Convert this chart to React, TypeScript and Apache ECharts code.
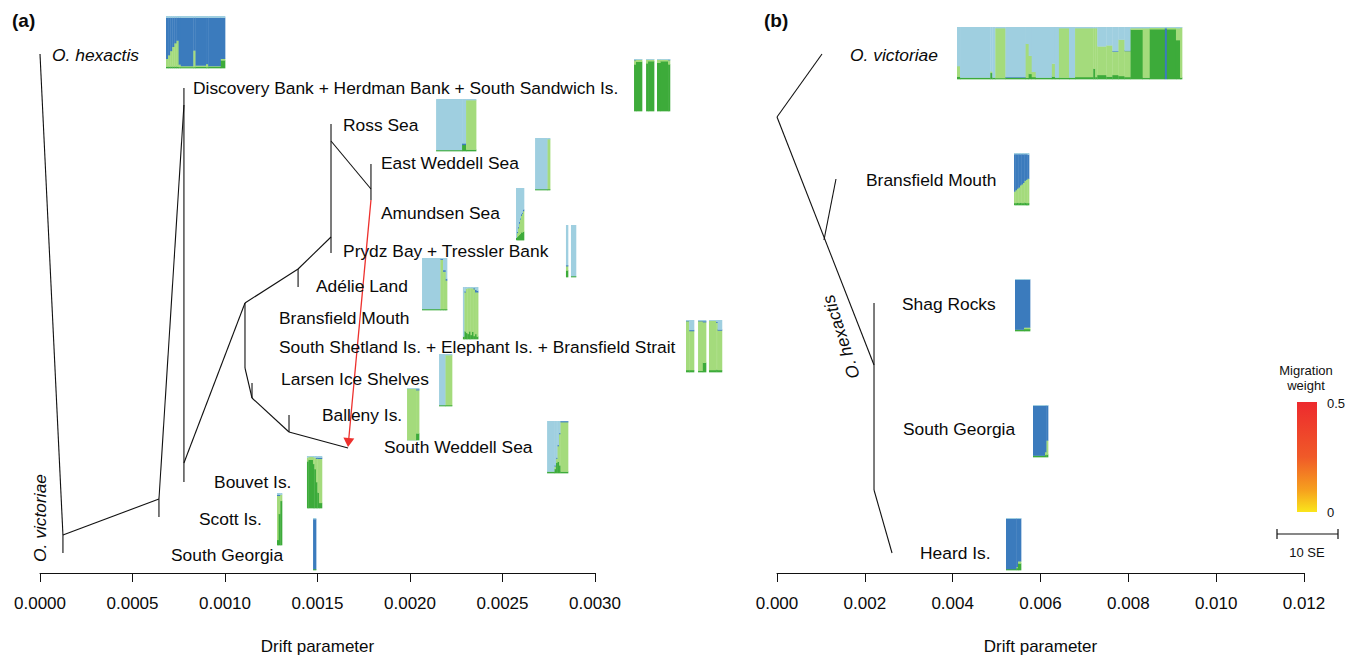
import React, { useEffect, useRef } from "react";
import * as echarts from "echarts";

const FONT = "'Liberation Sans', Arial, Helvetica, sans-serif";
const LABEL_SIZE = 17.4;
const COL = { dg: "#3dab3a", lg: "#a4db7c", db: "#3b7bbd", lb: "#9fcfe0" };
const BAR_H = 52; // height of each admixture block (vertical position units)

// ---------------- Panel (a) ----------------
// tree edges: [drift0, pos0, drift1, pos1]
const edgesA = [
  [0, 54, 0.000124, 535],
  [0.000124, 535, 0.000124, 553],
  [0.000124, 535, 0.000643, 499],
  [0.000643, 499, 0.000643, 517],
  [0.000643, 499, 0.000778, 105],
  [0.000778, 88, 0.000778, 482],
  [0.000778, 463, 0.001108, 303],
  [0.001108, 303, 0.001108, 368],
  [0.001108, 368, 0.001146, 398],
  [0.001146, 383, 0.001146, 398],
  [0.001146, 398, 0.001346, 432],
  [0.001346, 415, 0.001346, 432],
  [0.001346, 432, 0.001665, 448],
  [0.001108, 303, 0.001395, 269],
  [0.001395, 269, 0.001395, 287],
  [0.001395, 269, 0.001573, 237],
  [0.001573, 124, 0.001573, 253],
  [0.001573, 141, 0.001789, 189],
  [0.001789, 164, 0.001789, 200],
];
// migration edge: [fromDrift, fromPos, toDrift, toPos, weight]
const migrationA = [[0.001789, 200, 0.001665, 447, 0.47]];

const popsA = [
  "O. hexactis",
  "Discovery Bank + Herdman Bank + South Sandwich Is.",
  "Ross Sea",
  "East Weddell Sea",
  "Amundsen Sea",
  "Prydz Bay + Tressler Bank",
  "Adélie Land",
  "Bransfield Mouth",
  "South Shetland Is. + Elephant Is. + Bransfield Strait",
  "Larsen Ice Shelves",
  "Balleny Is.",
  "South Weddell Sea",
  "Bouvet Is.",
  "Scott Is.",
  "South Georgia",
  "O. victoriae",
];
const labelAX = [0.000065, 0.000827, 0.001638, 0.001843, 0.001843, 0.001638, 0.001492, 0.001292, 0.001292, 0.001303, 0.001524, 0.001859, 0.000941, 0.000859, 0.000708, 0];
const labelAY = [55, 88, 125, 163, 213, 251, 286, 318, 347, 379, 415, 447, 482, 519, 555, 518];
const labelAItalic = [1, 0, 0, 0, 0, 0, 0, 0, 0, 0, 0, 0, 0, 0, 0, 1];
const labelARot = [0, 0, 0, 0, 0, 0, 0, 0, 0, 0, 0, 0, 0, 0, 0, 90];
const labelAAlign = ["left", "left", "left", "left", "left", "left", "left", "left", "left", "left", "left", "left", "left", "left", "left", "center"];

// admixture columns: [individuals, darkGreen, lightGreen, darkBlue] (light blue = rest)
const runsHex = [[1, .03, .15, .79], [1, .03, .22, .72], [1, .03, .3, .64], [1, .03, .38, .56], [1, .03, .45, .49], [1, .03, .5, .44], [1, .02, .05, .9], [6, .02, .02, .93], [1, .02, .32, .63], [5, .03, .02, .92], [1, .02, .06, .89], [6, .03, .01, .93], [2, .15, .03, .79]];
const runsDisc1 = [[1, .9, .08, .01], [3, .95, .04, 0]];
const runsDisc2 = [[1, .92, .07, 0], [3, .96, .03, 0]];
const runsDisc3 = [[2, .93, .06, 0], [4, .96, .03, 0], [1, .9, .08, .01]];
const runsRoss = [[13, .02, 0, 0], [2, .12, 0, .03], [5, .03, .95, 0]];
const runsEWed = [[10, .02, 0, 0], [2, .02, .96, 0]];
const runsAmun = [[1, .05, 0, 0], [1, .06, .08, .02], [1, .08, .15, .02], [1, .1, .22, .03], [1, .12, .28, .02], [1, .15, .32, .03], [1, .15, .36, .02], [1, .16, .4, .03]];
const runsPrydz1 = [[1, .13, .08, .02]];
const runsPrydz2 = [[3, .02, 0, 0]];
const runsAdelie = [[14, .02, 0, 0], [2, .02, .95, .02], [2, .02, .72, .03], [1, .02, .55, .03]];
const runsBransA = [[1, .05, 0, 0], [1, .15, .75, .02], [1, .12, .85, 0], [1, .1, .88, 0], [1, .15, .83, 0], [1, .08, .9, 0], [1, .14, .84, 0], [1, .06, .9, .02], [1, .1, .8, .05], [1, .05, .85, .03]];
const runsSS1 = [[2, .04, .94, .01], [3, .04, .75, .02]];
const runsSS2 = [[3, .03, .95, .01], [2, .18, .78, .02]];
const runsSS3 = [[5, .04, .95, 0], [1, .05, .9, .02], [3, .04, .76, .02]];
const runsLarsen = [[5, .02, 0, 0], [5, .02, .96, 0]];
const runsBalleny = [[6, .01, .98, 0], [2, .13, .83, .02]];
const runsSWed = [[5, .03, 0, 0], [1, .08, .05, .02], [1, .2, .08, .02], [1, .22, .3, .02], [1, .15, .6, .02], [5, .03, .95, .02]];
const runsBouvet = [[1, .9, .07, 0], [3, .93, .06, 0], [1, .85, .13, 0], [1, .75, .22, 0], [1, .5, .45, .02], [1, .3, .65, .02], [2, .1, .85, .02]];
const runsScott = [[1, .1, .85, .02], [1, .6, .35, .02], [1, .85, .12, 0]];
const runsSGeoA = [[2, .02, 0, .96]];

const blockARuns = [runsHex, runsDisc1, runsDisc2, runsDisc3, runsRoss, runsEWed, runsAmun, runsPrydz1, runsPrydz2, runsAdelie, runsBransA, runsSS1, runsSS2, runsSS3, runsLarsen, runsBalleny, runsSWed, runsBouvet, runsScott, runsSGeoA];
// block placement (drift from, drift to, top position)
const blockAX0 = [0.000681, 0.003211, 0.003276, 0.003335, 0.002141, 0.002676, 0.002573, 0.002843, 0.00287, 0.002065, 0.002286, 0.003492, 0.003557, 0.003616, 0.002157, 0.001984, 0.002741, 0.001443, 0.001281, 0.001476];
const blockAX1 = [0.001, 0.003254, 0.003319, 0.003405, 0.002357, 0.002757, 0.002616, 0.002854, 0.002897, 0.0022, 0.002368, 0.003535, 0.0036, 0.003686, 0.002227, 0.002049, 0.002854, 0.001524, 0.001308, 0.001492];
const blockATop = [16, 59, 59, 59, 99, 138, 188, 225, 225, 258, 287, 320, 320, 320, 354, 388, 421, 456, 493, 518];

// ---------------- Panel (b) ----------------
const edgesB = [
  [0, 117, 0.001025, 54],
  [0, 117, 0.002209, 365],
  [0.00107, 240, 0.001343, 179],
  [0.002209, 303, 0.002209, 490],
  [0.002209, 490, 0.002619, 553],
];
const popsB = ["O. victoriae", "Bransfield Mouth", "Shag Rocks", "South Georgia", "Heard Is.", "O. hexactis"];
const labelBX = [0.001662, 0.002027, 0.002846, 0.002869, 0.003256, 0.001457];
const labelBY = [55, 180, 304, 429, 553, 337];
const labelBItalic = [1, 0, 0, 0, 0, 1];
const labelBRot = [0, 0, 0, 0, 0, 108];
const labelBAlign = ["left", "left", "left", "left", "left", "center"];

const runsVic = [[3, .05, .2, 0], [30, .03, 0, 0], [2, .12, .03, 0], [3, .03, 0, 0], [10, .02, .96, 0], [20, .03, 0, .01], [3, .03, .65, 0], [3, .1, .35, 0], [4, .04, .1, 0], [16, .03, 0, 0], [3, .05, .25, 0], [4, .03, 0, 0], [10, .03, .95, 0], [6, .03, 0, 0], [18, .04, .94, 0], [2, .2, .78, 0], [2, .04, .94, 0], [9, .08, .55, 0], [6, .05, .6, 0], [6, .08, .45, .01], [6, .06, .7, 0], [6, .04, .5, .01], [12, .95, .03, 0], [7, .03, .95, 0], [15, .96, .03, 0], [2, 0, 0, .98], [9, .96, .03, 0], [4, .75, .23, 0], [2, .03, .96, 0]];
const runsBransB = [[1, .04, .22, .72], [1, .04, .25, .69], [1, .05, .27, .66], [1, .04, .3, .64], [1, .05, .33, .6], [1, .04, .36, .58], [1, .04, .39, .55], [1, .05, .42, .51], [1, .04, .45, .49], [1, .04, .47, .46]];
const runsShag = [[6, .03, 0, .96], [4, .04, .03, .92]];
const runsSGeoB = [[8, .03, 0, .96], [1, .04, .06, .89], [1, .05, .27, .67]];
const runsHeard = [[7, .02, 0, .97], [1, .04, .02, .93], [2, .13, .04, .82]];

const blockBRuns = [runsVic, runsBransB, runsShag, runsSGeoB, runsHeard];
const blockBX0 = [0.004099, 0.005397, 0.005419, 0.005829, 0.005214];
const blockBX1 = [0.009222, 0.005738, 0.005761, 0.006171, 0.005556];
const blockBTop = [27, 153, 279, 405, 518];

// migration weight colour scale
const weightStops = [
  [0, "#fae51b"],
  [0.2, "#f6a01e"],
  [0.5, "#f05a28"],
  [1, "#ed2a2e"],
];
const WEIGHT_MAX = 0.5;

function hexToRgb(h: string) {
  const n = parseInt(h.slice(1), 16);
  return [(n >> 16) & 255, (n >> 8) & 255, n & 255];
}
function weightColor(w: number) {
  const t = Math.max(0, Math.min(1, w / WEIGHT_MAX));
  for (let i = 1; i < weightStops.length; i++) {
    const [t1, c1] = weightStops[i] as [number, string];
    const [t0, c0] = weightStops[i - 1] as [number, string];
    if (t <= t1) {
      const f = (t - t0) / (t1 - t0);
      const a = hexToRgb(c0), b = hexToRgb(c1);
      return `rgb(${a.map((v, k) => Math.round(v + (b[k] - v) * f)).join(",")})`;
    }
  }
  return weightStops[weightStops.length - 1][1] as string;
}

function edgeSeries(data: number[][], idx: number) {
  return {
    type: "custom",
    xAxisIndex: idx,
    yAxisIndex: idx,
    clip: false,
    silent: true,
    data,
    renderItem: (_p: any, api: any) => {
      const a = api.coord([api.value(0), api.value(1)]);
      const b = api.coord([api.value(2), api.value(3)]);
      return {
        type: "line",
        shape: { x1: a[0], y1: a[1], x2: b[0], y2: b[1] },
        style: { stroke: "#111", lineWidth: 1.1 },
      };
    },
  };
}

function blockSeries(x0: number[], x1: number[], top: number[], runs: number[][][], idx: number) {
  return {
    type: "custom",
    xAxisIndex: idx,
    yAxisIndex: idx,
    clip: false,
    silent: true,
    data: x0.map((v, i) => [v, x1[i], top[i]]),
    renderItem: (params: any, api: any) => {
      const i = params.dataIndex;
      const tl = api.coord([api.value(0), api.value(2)]);
      const br = api.coord([api.value(1), api.value(2) + BAR_H]);
      const cols = runs[i];
      const n = cols.reduce((s, r) => s + r[0], 0);
      const w = (br[0] - tl[0]) / n;
      const h = br[1] - tl[1];
      const children: any[] = [];
      let c = 0;
      for (const r of cols) {
        const [cnt, dg, lg, db] = r;
        const lb = Math.max(0, 1 - dg - lg - db);
        const x = tl[0] + c * w;
        const ww = cnt * w;
        let y = br[1];
        const parts: [number, string][] = [[dg, COL.dg], [lg, COL.lg], [db, COL.db], [lb, COL.lb]];
        for (const [f, color] of parts) {
          if (f <= 0) continue;
          const hh = f * h;
          children.push({
            type: "rect",
            shape: { x, y: y - hh, width: ww + 0.35, height: hh + 0.35 },
            style: { fill: color },
          });
          y -= hh;
        }
        c += cnt;
      }
      return { type: "group", children };
    },
  };
}

function labelSeries(names: string[], xs: number[], ys: number[], italic: number[], rot: number[], align: string[], idx: number) {
  return {
    type: "custom",
    xAxisIndex: idx,
    yAxisIndex: idx,
    clip: false,
    silent: true,
    data: xs.map((v, i) => [v, ys[i]]),
    renderItem: (params: any, api: any) => {
      const i = params.dataIndex;
      const p = api.coord([api.value(0), api.value(1)]);
      return {
        type: "text",
        x: p[0],
        y: p[1],
        rotation: (rot[i] * Math.PI) / 180,
        style: {
          text: names[i],
          fill: "#0a0a0a",
          fontSize: LABEL_SIZE,
          fontFamily: FONT,
          fontStyle: italic[i] ? "italic" : "normal",
          align: align[i],
          verticalAlign: "middle",
        },
      };
    },
  };
}

function migrationSeries(data: number[][], idx: number) {
  return {
    type: "custom",
    xAxisIndex: idx,
    yAxisIndex: idx,
    clip: false,
    silent: true,
    data,
    renderItem: (_p: any, api: any) => {
      const a = api.coord([api.value(0), api.value(1)]);
      const b = api.coord([api.value(2), api.value(3)]);
      const color = weightColor(api.value(4));
      const dx = b[0] - a[0], dy = b[1] - a[1];
      const L = Math.sqrt(dx * dx + dy * dy);
      const ux = dx / L, uy = dy / L;
      const hl = 9, hw = 5.5;
      const bx = b[0] - ux * hl, by = b[1] - uy * hl;
      return {
        type: "group",
        children: [
          { type: "line", shape: { x1: a[0], y1: a[1], x2: bx, y2: by }, style: { stroke: color, lineWidth: 1.3 } },
          {
            type: "polygon",
            shape: { points: [[b[0], b[1]], [bx - uy * hw, by + ux * hw], [bx + uy * hw, by - ux * hw]] },
            style: { fill: color },
          },
        ],
      };
    },
  };
}

function xAxisOpt(idx: number, max: number, interval: number, digits: number) {
  return {
    type: "value",
    gridIndex: idx,
    min: 0,
    max,
    interval,
    axisLine: { show: true, onZero: false, lineStyle: { color: "#111", width: 1 } },
    axisTick: { show: true, length: 9, lineStyle: { color: "#111", width: 1 } },
    axisLabel: {
      formatter: (v: number) => v.toFixed(digits),
      fontSize: 17,
      color: "#0a0a0a",
      fontFamily: FONT,
      margin: 22,
    },
    splitLine: { show: false },
    name: "Drift parameter",
    nameLocation: "middle",
    nameGap: 65,
    nameTextStyle: { fontSize: 17, color: "#0a0a0a", fontFamily: FONT },
  };
}

function yAxisOpt(idx: number) {
  return { type: "value", gridIndex: idx, min: 0, max: 573, inverse: true, show: false };
}

const option: any = {
  animation: false,
  backgroundColor: "#ffffff",
  grid: [
    { left: 40, top: 0, width: 555, height: 573, containLabel: false, outerBoundsMode: "none" },
    { left: 777, top: 0, width: 527, height: 573, containLabel: false, outerBoundsMode: "none" },
  ],
  xAxis: [xAxisOpt(0, 0.003, 0.0005, 4), xAxisOpt(1, 0.012, 0.002, 3)],
  yAxis: [yAxisOpt(0), yAxisOpt(1)],
  series: [
    blockSeries(blockAX0, blockAX1, blockATop, blockARuns, 0),
    edgeSeries(edgesA, 0),
    migrationSeries(migrationA, 0),
    labelSeries(popsA, labelAX, labelAY, labelAItalic, labelARot, labelAAlign, 0),
    blockSeries(blockBX0, blockBX1, blockBTop, blockBRuns, 1),
    edgeSeries(edgesB, 1),
    labelSeries(popsB, labelBX, labelBY, labelBItalic, labelBRot, labelBAlign, 1),
  ],
  graphic: [
    { type: "text", left: 12, top: 11, style: { text: "(a)", fontSize: 19, fontWeight: "bold", fontFamily: FONT, fill: "#0a0a0a" } },
    { type: "text", left: 764, top: 11, style: { text: "(b)", fontSize: 19, fontWeight: "bold", fontFamily: FONT, fill: "#0a0a0a" } },
    { type: "text", x: 1306, y: 370, style: { text: "Migration", fontSize: 13, fontFamily: FONT, fill: "#111", align: "center", verticalAlign: "middle" } },
    { type: "text", x: 1306, y: 385, style: { text: "weight", fontSize: 13, fontFamily: FONT, fill: "#111", align: "center", verticalAlign: "middle" } },
    {
      type: "rect",
      shape: { x: 1297, y: 402, width: 20, height: 110 },
      style: {
        fill: new echarts.graphic.LinearGradient(0, 1, 0, 0, weightStops.map(([o, c]) => ({ offset: o as number, color: c as string }))),
      },
    },
    { type: "text", x: 1327, y: 403, style: { text: "0.5", fontSize: 13, fontFamily: FONT, fill: "#111", verticalAlign: "middle" } },
    { type: "text", x: 1327, y: 512, style: { text: "0", fontSize: 13, fontFamily: FONT, fill: "#111", verticalAlign: "middle" } },
    { type: "line", shape: { x1: 1277, y1: 534, x2: 1338, y2: 534 }, style: { stroke: "#111", lineWidth: 1.2 } },
    { type: "line", shape: { x1: 1277, y1: 529, x2: 1277, y2: 539 }, style: { stroke: "#111", lineWidth: 1.2 } },
    { type: "line", shape: { x1: 1338, y1: 529, x2: 1338, y2: 539 }, style: { stroke: "#111", lineWidth: 1.2 } },
    { type: "text", x: 1307, y: 552, style: { text: "10 SE", fontSize: 13, fontFamily: FONT, fill: "#111", align: "center", verticalAlign: "middle" } },
  ],
};

export default function App() {
  const ref = useRef<HTMLDivElement>(null);
  useEffect(() => {
    const chart = echarts.init(ref.current as HTMLDivElement, null, { renderer: "svg" });
    chart.setOption(option);
    return () => chart.dispose();
  }, []);
  return <div ref={ref} style={{ position: "absolute", left: 0, top: 0, width: 1359, height: 657 }} />;
}
